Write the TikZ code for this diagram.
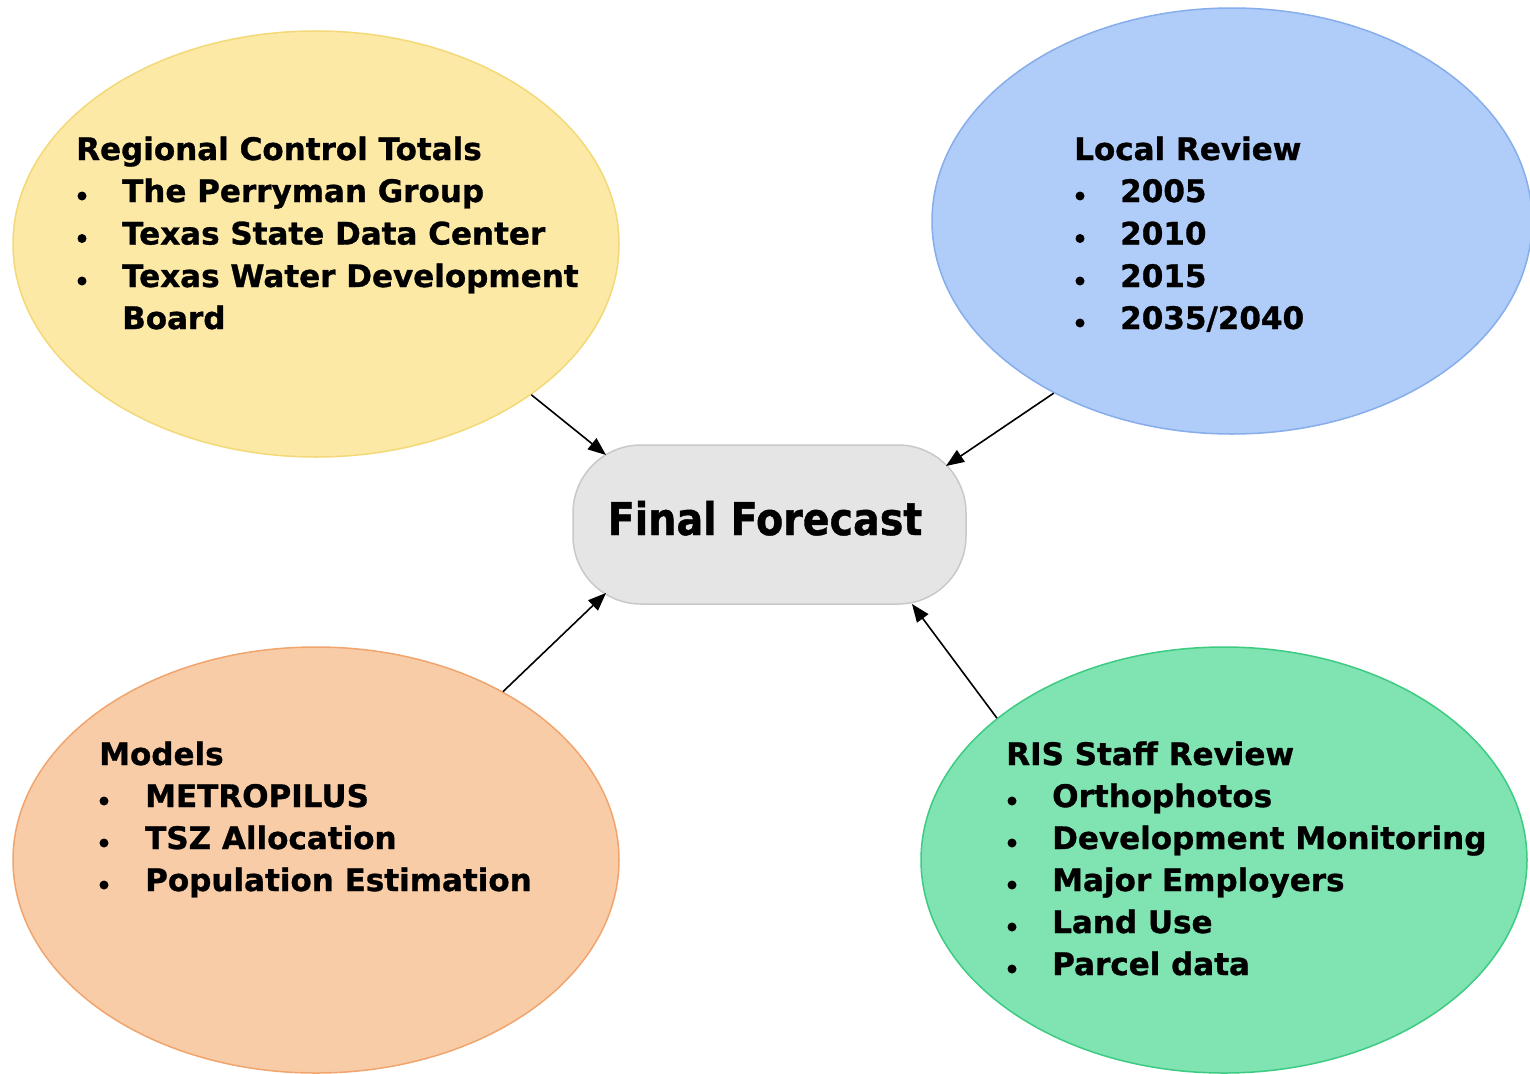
\documentclass[tikz,border=0pt]{standalone}
\usepackage{fontspec}
\setmainfont{DejaVu Sans}[BoldFeatures={FakeBold=1}]
\usetikzlibrary{shapes.geometric,arrows.meta}
\definecolor{yelfill}{HTML}{FCE9A6}
\definecolor{yeldraw}{HTML}{F3D977}
\definecolor{blufill}{HTML}{B0CCF8}
\definecolor{bludraw}{HTML}{86ADEC}
\definecolor{orafill}{HTML}{F9CCA8}
\definecolor{oradraw}{HTML}{F1A56E}
\definecolor{grnfill}{HTML}{80E3B2}
\definecolor{grndraw}{HTML}{3DCB82}
\definecolor{fffill}{HTML}{E5E5E5}
\definecolor{ffdraw}{HTML}{C9C9C9}
\begin{document}
\begin{tikzpicture}[x=1pt,y=-1pt,
  bubble/.style={ellipse, inner sep=0pt, minimum width=606pt, minimum height=426pt, line width=1.5pt},
  txt/.style={anchor=base west, inner sep=0pt, font=\fontsize{31}{36}\selectfont\bfseries},
  dot/.style={circle, fill=black, inner sep=0pt, minimum size=9pt},
  arr/.style={-{Triangle[length=18pt,width=14pt]}, line width=1.6pt, black}]
\useasboundingbox (0,0) rectangle (1530,1073);
\fill[white] (0,0) rectangle (1530,1073);

% bubbles
\node[bubble, fill=yelfill, draw=yeldraw] (yel) at (316,244) {};
\node[bubble, fill=blufill, draw=bludraw, minimum width=600pt] (blu) at (1232,221) {};
\node[bubble, fill=orafill, draw=oradraw] (ora) at (316,860) {};
\node[bubble, fill=grnfill, draw=grndraw] (grn) at (1224,860) {};

% central node
\node[rectangle, rounded corners=68pt, minimum width=393pt, minimum height=159pt, inner sep=0pt,
      fill=fffill, draw=ffdraw, line width=1.5pt] (ff) at (769.5,524.5) {};
\node[anchor=base, inner sep=0pt] (fftxt) at (765,535)
  {\scalebox{0.88}[1]{\fontsize{45}{50}\selectfont\bfseries Final Forecast}};

% arrow end points on the central node
\coordinate (ffnw) at (606,455);
\coordinate (ffne) at (946,466);
\coordinate (ffsw) at (606,593);
\coordinate (ffse) at (912,604);

\draw[arr] (yel.-35.6) -- (ffnw);
\draw[arr] (blu.224.5) -- (ffne);
\draw[arr] (ora.42.3) -- (ffsw);
\draw[arr] (grn.148.1) -- (ffse);

% yellow text
\node[txt] (y0) at (76,160) {Regional Control Totals};
\node[dot] (yb1) at (82,196) {};
\node[txt] (y1) at (122,202) {The Perryman Group};
\node[dot] (yb2) at (82,238.5) {};
\node[txt] (y2) at (122,244.5) {Texas State Data Center};
\node[dot] (yb3) at (82,281) {};
\node[txt] (y3) at (122,287) {Texas Water Development};
\node[txt] (y4) at (122,329) {Board};

% blue text
\node[txt] (b0) at (1074,160) {Local Review};
\node[dot] (bb1) at (1080,196) {};
\node[txt] (b1) at (1120,202) {2005};
\node[dot] (bb2) at (1080,238.5) {};
\node[txt] (b2) at (1120,244.5) {2010};
\node[dot] (bb3) at (1080,281) {};
\node[txt] (b3) at (1120,287) {2015};
\node[dot] (bb4) at (1080,323) {};
\node[txt] (b4) at (1120,329) {2035/2040};

% orange text
\node[txt] (o0) at (99,765) {Models};
\node[dot] (ob1) at (104,801) {};
\node[txt] (o1) at (145,807) {METROPILUS};
\node[dot] (ob2) at (104,843) {};
\node[txt] (o2) at (145,849) {TSZ Allocation};
\node[dot] (ob3) at (104,885) {};
\node[txt] (o3) at (145,891) {Population Estimation};

% green text
\node[txt] (g0) at (1006,765) {RIS Staff Review};
\node[dot] (gb1) at (1012,801) {};
\node[txt] (g1) at (1052,807) {Orthophotos};
\node[dot] (gb2) at (1012,843) {};
\node[txt] (g2) at (1052,849) {Development Monitoring};
\node[dot] (gb3) at (1012,885) {};
\node[txt] (g3) at (1052,891) {Major Employers};
\node[dot] (gb4) at (1012,927) {};
\node[txt] (g4) at (1052,933) {Land Use};
\node[dot] (gb5) at (1012,969) {};
\node[txt] (g5) at (1052,975) {Parcel data};
\end{tikzpicture}
\end{document}
